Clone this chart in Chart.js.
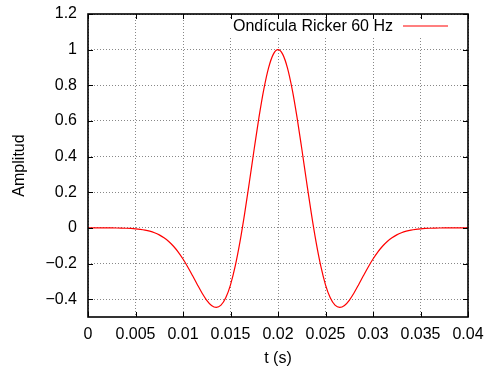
<!DOCTYPE html>
<html>
<head>
<meta charset="utf-8">
<script src="https://cdn.jsdelivr.net/npm/chart.js@4/dist/chart.umd.min.js"></script>
<style>
  html, body { margin: 0; padding: 0; background: #fff; }
  #wrap { width: 485px; height: 371px; position: relative; }
</style>
</head>
<body>
<div id="wrap"><canvas id="c" width="485" height="371"></canvas></div>
<script>
// ---- Data ----
const time = [
  0, 0.0005, 0.001, 0.0015, 0.002, 0.0025, 0.003, 0.0035, 0.004, 0.0045,
  0.005, 0.0055, 0.006, 0.0065, 0.007, 0.0075, 0.008, 0.0085, 0.009, 0.0095,
  0.01, 0.0105, 0.011, 0.0115, 0.012, 0.0125, 0.013, 0.0135, 0.014, 0.0145,
  0.015, 0.0155, 0.016, 0.0165, 0.017, 0.0175, 0.018, 0.0185, 0.019, 0.0195,
  0.02, 0.0205, 0.021, 0.0215, 0.022, 0.0225, 0.023, 0.0235, 0.024, 0.0245,
  0.025, 0.0255, 0.026, 0.0265, 0.027, 0.0275, 0.028, 0.0285, 0.029, 0.0295,
  0.03, 0.0305, 0.031, 0.0315, 0.032, 0.0325, 0.033, 0.0335, 0.034, 0.0345,
  0.035, 0.0355, 0.036, 0.0365, 0.037, 0.0375, 0.038, 0.0385, 0.039, 0.0395,
  0.04
];
const amplitude = [
  -0.00002, -0.00004, -0.00007, -0.00012, -0.00022, -0.00039, -0.00068, -0.00116, -0.00193, -0.00316,
  -0.00506, -0.00794, -0.01222, -0.01842, -0.02716, -0.03921, -0.05537, -0.07646, -0.10318, -0.13597,
  -0.17486, -0.21919, -0.26750, -0.31734, -0.36513, -0.40619, -0.43527, -0.44624, -0.43365, -0.39242,
  -0.31944, -0.21378, -0.07758, 0.08380, 0.26179, 0.44518, 0.62094, 0.77556, 0.89651, 0.97355,
  1.00000, 0.97355, 0.89651, 0.77556, 0.62094, 0.44518, 0.26179, 0.08380, -0.07758, -0.21378,
  -0.31944, -0.39242, -0.43365, -0.44624, -0.43527, -0.40619, -0.36513, -0.31734, -0.26750, -0.21919,
  -0.17486, -0.13597, -0.10318, -0.07646, -0.05537, -0.03921, -0.02716, -0.01842, -0.01222, -0.00794,
  -0.00506, -0.00316, -0.00193, -0.00116, -0.00068, -0.00039, -0.00022, -0.00012, -0.00007, -0.00004,
  -0.00002
];
const seriesLabel = 'Ondícula Ricker 60 Hz';
const xTicks = [0, 0.005, 0.01, 0.015, 0.02, 0.025, 0.03, 0.035, 0.04];
const xTickLabels = ['0', '0.005', '0.01', '0.015', '0.02', '0.025', '0.03', '0.035', '0.04'];
const yTicks = [-0.4, -0.2, 0, 0.2, 0.4, 0.6, 0.8, 1, 1.2];
const yTickLabels = ['\u22120.4', '\u22120.2', '0', '0.2', '0.4', '0.6', '0.8', '1', '1.2'];
const xTitle = 't (s)';
const yTitle = 'Amplitud';

// ---- Chart ----
const FONT = "'Liberation Sans', Arial, Helvetica, sans-serif";
Chart.defaults.font.family = FONT;
Chart.defaults.font.size = 16;
Chart.defaults.color = '#000';

const points = time.map((t, i) => ({ x: t, y: amplitude[i] }));

function zeroPad(scale) {
  scale.paddingTop = 0; scale.paddingBottom = 0;
  scale.paddingLeft = 0; scale.paddingRight = 0;
}

const framePlugin = {
  id: 'frame',
  afterDraw(chart) {
    const { ctx, chartArea: a, scales } = chart;
    // legend (opaque key box inside the plot, sample line to the right of text)
    ctx.save();
    ctx.fillStyle = '#fff';
    ctx.fillRect(a.right - 244, a.top + 4.5, 234, 19);
    ctx.font = '16px ' + FONT;
    ctx.fillStyle = '#000';
    ctx.textAlign = 'right';
    ctx.textBaseline = 'middle';
    ctx.fillText(chart.data.datasets[0].label, a.right - 75, a.top + 12.5);
    ctx.strokeStyle = chart.data.datasets[0].borderColor;
    ctx.lineWidth = 1.2;
    ctx.beginPath();
    ctx.moveTo(a.right - 65, a.top + 12);
    ctx.lineTo(a.right - 20, a.top + 12);
    ctx.stroke();
    ctx.restore();

    // inward tick marks on all four sides
    ctx.save();
    ctx.strokeStyle = '#000';
    ctx.lineWidth = 1;
    const tl = 5;
    ctx.beginPath();
    scales.x.ticks.forEach(t => {
      const px = Math.round(scales.x.getPixelForValue(t.value)) + 0.5;
      ctx.moveTo(px, a.bottom); ctx.lineTo(px, a.bottom - tl);
      ctx.moveTo(px, a.top); ctx.lineTo(px, a.top + tl);
    });
    scales.y.ticks.forEach(t => {
      const py = Math.round(scales.y.getPixelForValue(t.value)) + 0.5;
      ctx.moveTo(a.left, py); ctx.lineTo(a.left + tl, py);
      ctx.moveTo(a.right, py); ctx.lineTo(a.right - tl, py);
    });
    ctx.stroke();
    // frame
    ctx.lineWidth = 1.6;
    ctx.strokeRect(a.left, a.top, a.right - a.left, a.bottom - a.top);
    ctx.restore();
  }
};

new Chart(document.getElementById('c'), {
  type: 'line',
  data: {
    datasets: [{
      label: seriesLabel,
      data: points,
      borderColor: '#ff0000',
      borderWidth: 1.2,
      pointRadius: 0,
      fill: false,
      cubicInterpolationMode: 'monotone'
    }]
  },
  options: {
    responsive: false,
    animation: false,
    devicePixelRatio: 1,
    layout: { padding: { left: 0, right: 17, top: 14, bottom: 0 } },
    plugins: {
      legend: { display: false },
      tooltip: { enabled: false }
    },
    scales: {
      x: {
        type: 'linear',
        min: 0,
        max: 0.04,
        afterBuildTicks(scale) { scale.ticks = xTicks.map(v => ({ value: v })); },
        afterFit(scale) { scale.height = 54; zeroPad(scale); },
        ticks: {
          autoSkip: false,
          maxRotation: 0,
          padding: 8,
          callback: (v, i) => xTickLabels[i]
        },
        grid: { color: '#888', lineWidth: 1, drawTicks: false },
        border: { display: false, dash: [1, 2] },
        title: { display: true, text: xTitle, padding: { top: 0, bottom: 2.4 } }
      },
      y: {
        type: 'linear',
        min: -0.5,
        max: 1.2,
        afterBuildTicks(scale) { scale.ticks = yTicks.map(v => ({ value: v })); },
        afterFit(scale) { scale.width = 88; zeroPad(scale); },
        ticks: {
          autoSkip: false,
          padding: 11,
          callback: (v, i) => yTickLabels[i]
        },
        grid: { color: '#888', lineWidth: 1, drawTicks: false },
        border: { display: false, dash: [1, 2] },
        title: { display: true, text: yTitle, padding: { top: 10.4, bottom: 0 } }
      }
    }
  },
  plugins: [framePlugin]
});
</script>
</body>
</html>
